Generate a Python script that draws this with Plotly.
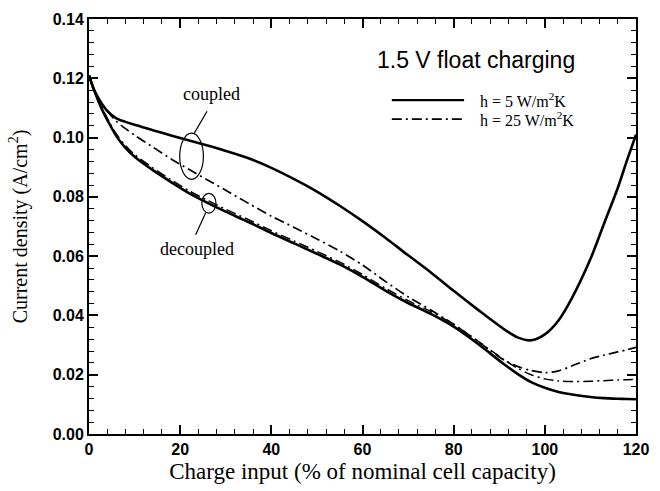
import plotly.graph_objects as go

# Charge input (% of nominal cell capacity)
charge = [0, 1, 2, 3, 4, 6, 8, 10, 14, 18, 22, 26, 30, 35, 40, 45, 50, 55, 60,
          65, 70, 75, 80, 85, 88, 91, 94, 97, 100, 103, 106, 110, 113, 116, 118, 120]

# Current density (A/cm^2), h = 5 W/m2K
h5_coupled = [0.121, 0.1165, 0.1135, 0.111, 0.109, 0.1065, 0.1053, 0.1043, 0.1025,
              0.1007, 0.0990, 0.0973, 0.0955, 0.0930, 0.0898, 0.0860, 0.0818, 0.0770,
              0.0718, 0.0662, 0.0603, 0.0545, 0.0483, 0.0423, 0.0388, 0.0354, 0.0326,
              0.0316, 0.0336, 0.0383, 0.0460, 0.0590, 0.0710, 0.0830, 0.0922, 0.1010]
h5_decoupled = [0.121, 0.1165, 0.1125, 0.109, 0.106, 0.1005, 0.0965, 0.0935, 0.0890,
                0.0850, 0.0812, 0.0780, 0.0750, 0.0715, 0.0678, 0.0643, 0.0608, 0.0572,
                0.0530, 0.0484, 0.0442, 0.0405, 0.0362, 0.0308, 0.0272, 0.0236, 0.0203,
                0.0175, 0.0156, 0.0142, 0.0133, 0.0125, 0.0121, 0.0119, 0.0118, 0.0117]

# Current density (A/cm^2), h = 25 W/m2K
h25_coupled = [0.121, 0.1165, 0.1135, 0.111, 0.109, 0.1055, 0.1030, 0.1008, 0.0968,
               0.0928, 0.0892, 0.0857, 0.0822, 0.0778, 0.0735, 0.0697, 0.0658, 0.0617,
               0.0570, 0.0515, 0.0463, 0.0418, 0.0370, 0.0316, 0.0282, 0.0250, 0.0228,
               0.0214, 0.0207, 0.0213, 0.0230, 0.0254, 0.0266, 0.0277, 0.0284, 0.0292]
h25_decoupled = [0.121, 0.1165, 0.1128, 0.1095, 0.1066, 0.1012, 0.0973, 0.0943, 0.0898,
                 0.0858, 0.0820, 0.0788, 0.0758, 0.0723, 0.0686, 0.0651, 0.0616, 0.0580,
                 0.0538, 0.0492, 0.0450, 0.0413, 0.0370, 0.0317, 0.0284, 0.0251, 0.0222,
                 0.0200, 0.0186, 0.0179, 0.0177, 0.0178, 0.0180, 0.0182, 0.0183, 0.0184]

x_ticks = [0, 20, 40, 60, 80, 100, 120]
y_ticks = [0.00, 0.02, 0.04, 0.06, 0.08, 0.10, 0.12, 0.14]

SERIF = "Liberation Serif, Times New Roman, serif"
SANS = "Liberation Sans, Arial, sans-serif"
DASHDOT = "10px,4px,2px,4px"

fig = go.Figure()
series = [
    (h5_coupled, "solid", 2.6),
    (h5_decoupled, "solid", 2.6),
    (h25_coupled, DASHDOT, 1.7),
    (h25_decoupled, DASHDOT, 1.5),
]
for ys, dash, w in series:
    fig.add_trace(go.Scatter(
        x=charge, y=ys, mode="lines",
        line=dict(color="black", width=w, dash=dash, shape="spline", smoothing=0.8),
        showlegend=False, hoverinfo="skip",
    ))

axis_common = dict(
    showline=True, linecolor="black", linewidth=2, mirror="allticks",
    ticks="inside", ticklen=9, tickwidth=2, tickcolor="black",
    showgrid=False, zeroline=False, ticklabeloverflow="allow",
    tickfont=dict(family=SANS, size=16, color="black", weight="bold"),
)
fig.update_xaxes(
    range=[0, 120], tickvals=x_ticks,
    minor=dict(ticks="inside", ticklen=5, tickwidth=1.3, dtick=4, tickcolor="black"),
    title=dict(text="Charge input (% of nominal cell capacity)",
               font=dict(family=SERIF, size=23, color="black"), standoff=6),
    **axis_common,
)
fig.update_yaxes(
    range=[0, 0.14], tickvals=y_ticks, tickformat=".2f",
    minor=dict(ticks="inside", ticklen=5, tickwidth=1.3, dtick=0.004, tickcolor="black"),
    title=dict(text="Current density (A/cm<sup>2</sup>)",
               font=dict(family=SERIF, size=20, color="black"), standoff=20),
    **axis_common,
)

# Ellipses marking the coupled and decoupled curve pairs, with leader lines
shapes = [
    dict(type="circle", xref="x", yref="y", x0=19.9, x1=25.1, y0=0.0859, y1=0.1015,
         line=dict(color="black", width=1.2)),
    dict(type="line", xref="x", yref="y", x0=23.1, y0=0.1015, x1=25.9, y1=0.1089,
         line=dict(color="black", width=1.2)),
    dict(type="circle", xref="x", yref="y", x0=24.75, x1=27.85, y0=0.0745, y1=0.0812,
         line=dict(color="black", width=1.2)),
    dict(type="line", xref="x", yref="y", x0=25.6, y0=0.0746, x1=23.4, y1=0.0672,
         line=dict(color="black", width=1.2)),
    # key lines
    dict(type="line", xref="paper", yref="paper", x0=0.5536, x1=0.6857, y0=0.8043, y1=0.8043,
         line=dict(color="black", width=2.2)),
    dict(type="line", xref="paper", yref="paper", x0=0.5536, x1=0.6857, y0=0.7589, y1=0.7589,
         line=dict(color="black", width=1.7, dash=DASHDOT)),
]

text_common = dict(showarrow=False, xanchor="center", yanchor="middle")
annotations = [
    dict(text="coupled", x=26.8, y=0.1146, xref="x", yref="y",
         font=dict(family=SERIF, size=18, color="black"), **text_common),
    dict(text="decoupled", x=23.6, y=0.0625, xref="x", yref="y",
         font=dict(family=SERIF, size=18, color="black"), **text_common),
    dict(text="1.5 V float charging", x=0.707, y=0.900, xref="paper", yref="paper",
         font=dict(family=SANS, size=23, color="black"), **text_common),
    dict(text="h = 5 W/m<sup>2</sup>K", x=0.711, y=0.8043, xref="paper", yref="paper",
         font=dict(family=SERIF, size=16, color="black"),
         showarrow=False, xanchor="left", yanchor="middle"),
    dict(text="h = 25 W/m<sup>2</sup>K", x=0.711, y=0.7589, xref="paper", yref="paper",
         font=dict(family=SERIF, size=16, color="black"),
         showarrow=False, xanchor="left", yanchor="middle"),
]

fig.update_layout(
    width=660, height=491,
    margin=dict(l=89, r=11, t=17, b=55),
    paper_bgcolor="white", plot_bgcolor="white",
    shapes=shapes, annotations=annotations,
)

fig.write_html("out.html")
